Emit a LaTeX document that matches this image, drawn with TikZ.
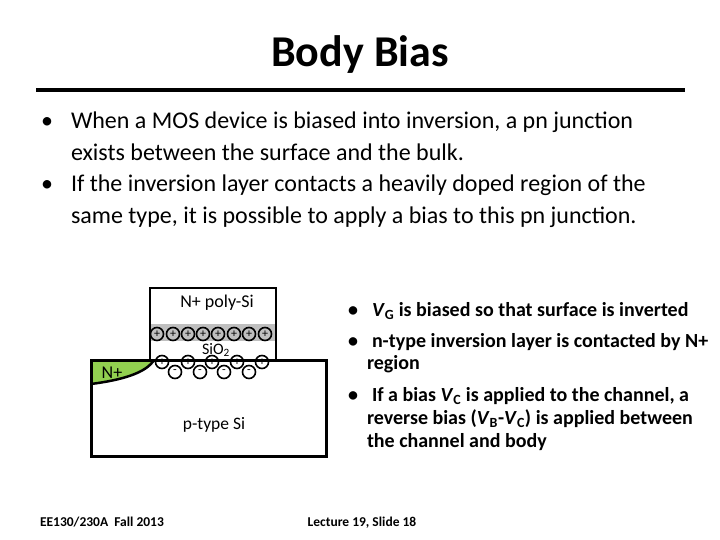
\documentclass[tikz,border=0pt]{standalone}
\usepackage{fontspec}
\setmainfont{Carlito}
\definecolor{nplus}{HTML}{92D050}
\definecolor{bandgray}{HTML}{BFBFBF}
\tikzset{
  txt/.style={anchor=base west,inner sep=0pt,outer sep=0pt,font=\fontsize{24}{24}\selectfont},
  rtxt/.style={anchor=base west,inner sep=0pt,outer sep=0pt,font=\fontsize{20}{20}\selectfont\bfseries},
  lab/.style={inner sep=0pt,outer sep=0pt},
  plus/.style={circle,draw=black,line width=1.6pt,fill=bandgray,minimum size=13pt,inner sep=0pt,font=\fontsize{12}{12}\selectfont},
  upcharge/.style={circle,draw=black,line width=1.6pt,fill=white,minimum size=13pt,inner sep=0pt,font=\fontsize{12}{12}\selectfont},
  minus/.style={circle,draw=black,line width=1.6pt,fill=white,minimum size=13pt,inner sep=0pt,font=\fontsize{12}{12}\selectfont},
}
\begin{document}
\begin{tikzpicture}[x=1pt,y=-1pt]
\useasboundingbox (0,0) rectangle (720,540);
\node[lab,anchor=base,font=\fontsize{44}{44}\selectfont\bfseries] (title) at (360,67) {Body Bias};
\coordinate (ra) at (36,90); \coordinate (rb) at (685,90);
\draw[line width=4pt] (ra) -- (rb);
\node[txt] (b1) at (41,129) {•};
\node[txt] (l1) at (71,129) {When a MOS device is biased into inversion, a pn junction};
\node[txt] (l2) at (71,161) {exists between the surface and the bulk.};
\node[txt] (b2) at (41,192) {•};
\node[txt] (l3) at (71,192) {If the inversion layer contacts a heavily doped region of the};
\node[txt] (l4) at (71,224) {same type, it is possible to apply a bias to this pn junction.};
% device
\fill[bandgray] (150,324) rectangle (276,341);
\fill[nplus] (91,360) -- (154,360) .. controls (146,373) and (122,380) .. (91,384) -- cycle;
\draw[line width=2.5pt] (154,360) .. controls (146,373) and (122,380) .. (91,384);
\foreach \x in {157,173,188,203,218,234,249,265}
  \node[plus] (p\x) at (\x,334) {+};
\foreach \x in {175,200,224,249}
  \node[minus] (m\x) at (\x,372) {-};
\foreach \x in {162,188,212,237,262}
  \node[upcharge] (u\x) at (\x,362) {+};
\draw[line width=2.6pt] (150,288) rectangle (276,360);
\draw[line width=3pt] (91,360) rectangle (326,456);
\node[lab] (np) at (217,303) {\fontsize{18}{18}\selectfont N+ poly-Si};
\node[lab] (ox) at (216,350) {\fontsize{16}{16}\selectfont SiO\textsubscript{2}};
\node[lab] (nn) at (112,373) {\fontsize{18}{18}\selectfont N+};
\node[lab] (pt) at (214,425) {\fontsize{17.5}{17.5}\selectfont p-type Si};
% right
\node[rtxt] (rb1) at (348,316) {•};
\node[rtxt] (r1) at (372,316) {\textit{V}\textsubscript{G} is biased so that surface is inverted};
\node[rtxt] (rb2) at (348,347) {•};
\node[rtxt] (r2) at (372,347) {n-type inversion layer is contacted by N+};
\node[rtxt] (r3) at (367,369) {region};
\node[rtxt] (rb3) at (348,401) {•};
\node[rtxt] (r4) at (372,401) {If a bias \textit{V}\textsubscript{C} is applied to the channel, a};
\node[rtxt] (r5) at (367,424) {reverse bias (\textit{V}\textsubscript{B}-\textit{V}\textsubscript{C}) is applied between};
\node[rtxt] (r6) at (367,447) {the channel and body};
% footer
\node[lab,anchor=base west,font=\fontsize{13.5}{13.5}\selectfont\bfseries] (fl) at (40,526) {EE130/230A\ \ Fall 2013};
\node[lab,anchor=base,font=\fontsize{13.5}{13.5}\selectfont\bfseries] (fc) at (362,526) {Lecture 19, Slide 18};
\end{tikzpicture}
\end{document}
